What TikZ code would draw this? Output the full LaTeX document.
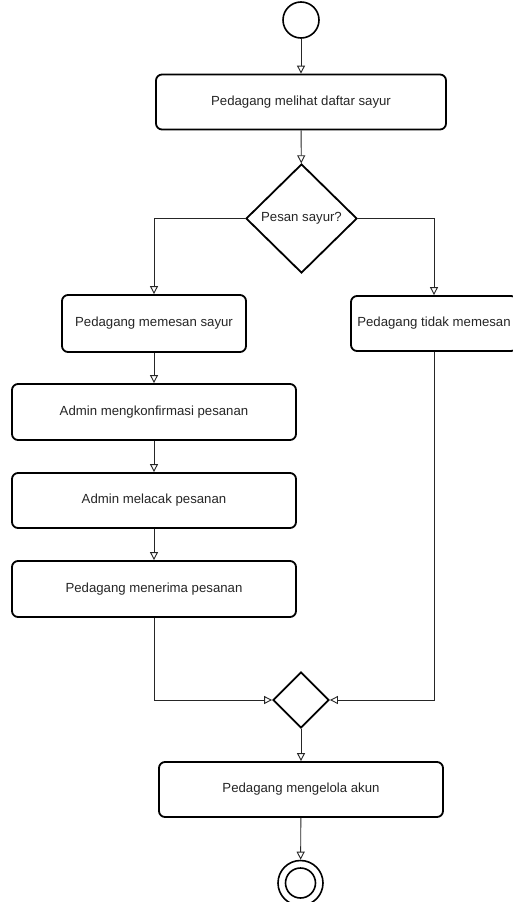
\documentclass[tikz,border=0pt]{standalone}
\usepackage{fontspec}
\setmainfont{Liberation Sans}
\usetikzlibrary{shapes.geometric,arrows.meta}
\tikzset{
  actbox/.style={draw=black, line width=1.8pt, rounded corners=6pt, fill=white, inner sep=0pt, font=\fontsize{13.2}{15}\selectfont, text=black!85},
  decis/.style={draw=black, diamond, line width=1.8pt, inner sep=0pt, fill=white, font=\fontsize{13.2}{15}\selectfont, text=black!85},
  flow/.style={draw=black!85, line width=0.9pt, -{Triangle[open, length=8pt, width=8pt, fill=white]}},
}
\begin{document}
\begin{tikzpicture}[x=1pt,y=-1pt]
\useasboundingbox[fill=white] (0,0) rectangle (512,902);
\node[circle, draw=black, line width=1.6pt, minimum size=36pt, inner sep=0pt] (start) at (301,20) {};
\node[actbox, minimum width=290pt, minimum height=55pt] (b1) at (301,102) {Pedagang melihat daftar sayur};
\node[decis, minimum width=111pt, minimum height=109pt] (d1) at (301.5,218.5) {Pesan sayur?};
\node[actbox, minimum width=184pt, minimum height=57pt] (b2) at (154,323.5) {Pedagang memesan sayur};
\node[actbox, minimum width=166pt, minimum height=55pt] (b3) at (434,323.5) {Pedagang tidak memesan};
\node[actbox, minimum width=284pt, minimum height=56pt] (b4) at (154,412) {Admin mengkonfirmasi pesanan};
\node[actbox, minimum width=284pt, minimum height=55pt] (b5) at (154,500.5) {Admin melacak pesanan};
\node[actbox, minimum width=284pt, minimum height=56pt] (b6) at (154,589) {Pedagang menerima pesanan};
\node[decis, minimum width=56pt, minimum height=56pt] (d2) at (301,700) {};
\node[actbox, minimum width=284pt, minimum height=55pt] (b7) at (301,789.5) {Pedagang mengelola akun};
\node[circle, draw=black, line width=1.6pt, minimum size=45pt, inner sep=0pt] (end) at (300.5,883) {};
\node[circle, draw=black, line width=1.6pt, minimum size=30pt, inner sep=0pt] (endin) at (end.center) {};
\draw[flow] (start) -- (b1);
\draw[flow] (b1) -- (d1);
\draw[flow] (d1.west) -| (b2.north);
\draw[flow] (d1.east) -| (b3.north);
\draw[flow] (b2) -- (b4);
\draw[flow] (b4) -- (b5);
\draw[flow] (b5) -- (b6);
\draw[flow] (b6.south) |- (d2.west);
\draw[flow] (b3.south) |- (d2.east);
\draw[flow] (d2) -- (b7);
\draw[flow] (b7) -- (end);
\end{tikzpicture}
\end{document}
